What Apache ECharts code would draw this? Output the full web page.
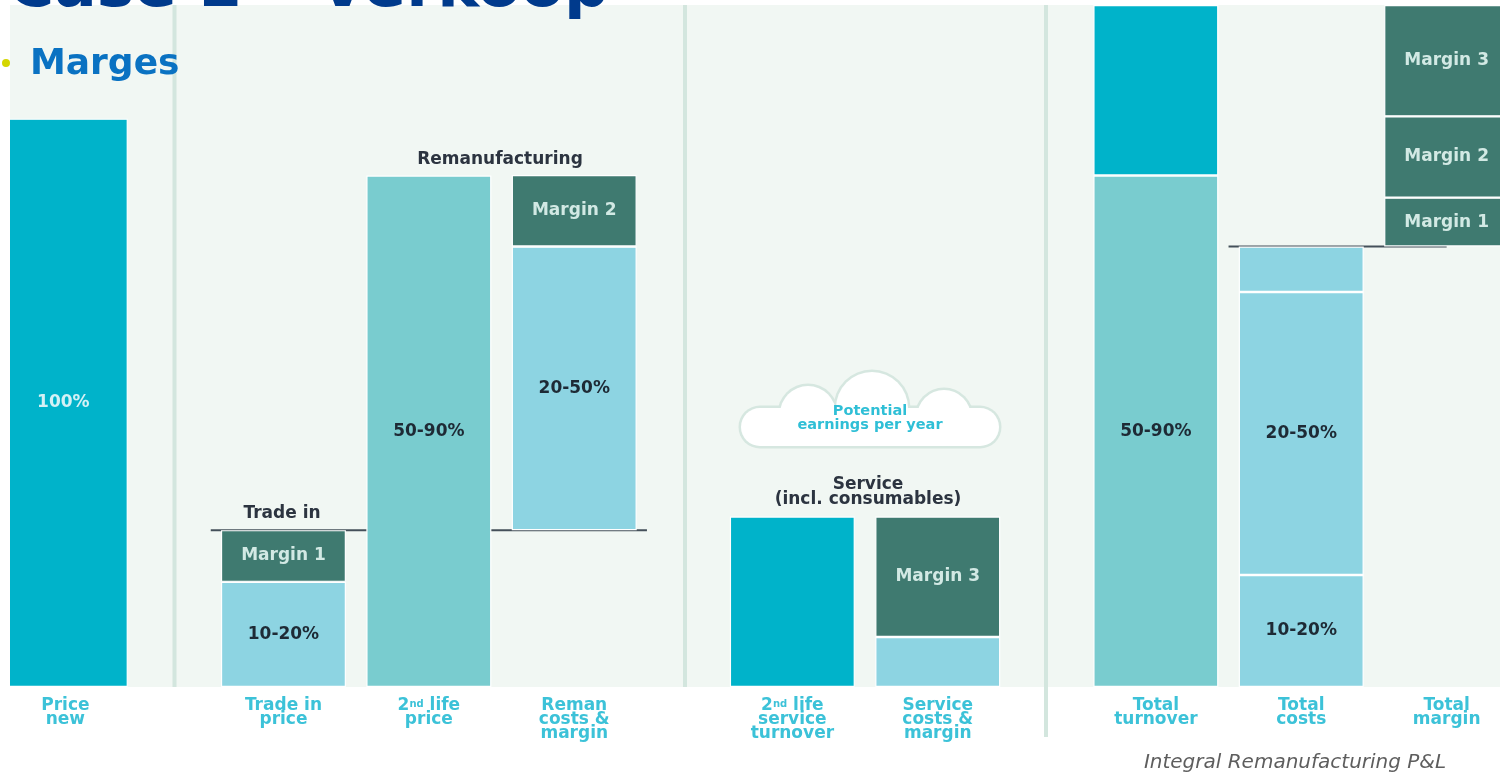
<!DOCTYPE html>
<html>
<head>
<meta charset="utf-8">
<style>
  html, body { margin: 0; padding: 0; background: #ffffff; }
  #chart { width: 1500px; height: 772px; }
</style>
<script src="https://cdn.jsdelivr.net/npm/echarts@6/dist/echarts.min.js"></script>
</head>
<body>
<div id="chart"></div>
<script>
// ---------- data ----------
const categories = ['Price\nnew', 'Trade in\nprice', '2nd life\nprice', 'Reman\ncosts &\nmargin',
  '2nd life\nservice\nturnover', 'Service\ncosts &\nmargin', 'Total\nturnover', 'Total\ncosts', 'Total\nmargin'];

const offset     = [0, 0, 0, 27.6, 0, 0, 0, 0, 77.5];
const costA      = [null, 18.5, null, 49.9, null, 8.8, null, 19.7, null];
const costB      = [null, null, null, null, null, null, null, 49.8, null];
const costC      = [null, null, null, null, null, null, null, 8.0, null];
const turnover   = [100, null, null, null, 30, null, null, null, null];
const secondLife = [null, null, 90, null, null, null, 90, null, null];
const serviceTop = [null, null, null, null, null, null, 30, null, null];
const margin1    = [null, 9.1, null, null, null, null, null, null, 8.6];
const margin2    = [null, null, null, 12.6, null, null, null, null, 14.3];
const margin3    = [null, null, null, null, null, 21.2, null, null, 19.6];

const costALabels      = ['', '10-20%', '', '20-50%', '', '', '', '10-20%', ''];
const costBLabels      = ['', '', '', '', '', '', '', '20-50%', ''];
const turnoverLabels   = ['100%', '', '', '', '', '', '', '', ''];
const secondLifeLabels = ['', '', '50-90%', '', '', '', '50-90%', '', ''];

// ---------- layout ----------
const slotOf = [0, 3, 5, 7, 10, 12, 15, 17, 19];
const NSLOT = 20;
function spread(arr, fill) {
  const out = new Array(NSLOT).fill(fill === undefined ? null : fill);
  arr.forEach((v, i) => { out[slotOf[i]] = v; });
  return out;
}
function labelFrom(arr) {
  return p => { const i = slotOf.indexOf(p.dataIndex); return i >= 0 ? (arr[i] || '') : ''; };
}

const C_CYAN = '#00b3ca', C_TEAL = '#79cccf', C_LIGHT = '#8dd4e2', C_DARK = '#3f7a70';
const FONT = 'DejaVu Sans';
const darkText  = { show: true, position: 'inside', color: '#1e2a35', fontFamily: FONT, fontWeight: 'bold', fontSize: 17 };
const lightText = { show: true, position: 'inside', color: '#d2e9e4', fontFamily: FONT, fontWeight: 'bold', fontSize: 17 };
const border = { borderColor: '#ffffff', borderWidth: 1.2 };

function barSeries(name, arr, color, label) {
  return {
    name, type: 'bar', stack: 'all', barWidth: 125, clip: false, z: 2,
    data: spread(arr),
    itemStyle: Object.assign({ color }, border),
    label: label || { show: false },
    emphasis: { disabled: true }
  };
}

const tradeInLevel = costA[1] + margin1[1];
const costsLevel = costA[7] + costB[7] + costC[7];
const lineData = new Array(NSLOT).fill(null);
for (let i = 2; i <= 8; i++) lineData[i] = tradeInLevel;
for (let i = 16; i <= 19; i++) lineData[i] = costsLevel;

// cloud built from circles and a rounded rect (outline layer + fill layer)
const cloudParts = [
  { t: 'rect', x: 741, y: 408, w: 258, h: 38, r: 19 },
  { t: 'circle', cx: 808, cy: 414, r: 28 },
  { t: 'circle', cx: 872, cy: 408, r: 36 },
  { t: 'circle', cx: 944, cy: 417, r: 27 }
];
function cloudLayer(grow, fill, z) {
  return cloudParts.map(p => p.t === 'rect'
    ? { type: 'rect', z, shape: { x: p.x - grow, y: p.y - grow, width: p.w + 2 * grow, height: p.h + 2 * grow, r: p.r + grow }, style: { fill } }
    : { type: 'circle', z, shape: { cx: p.cx, cy: p.cy, r: p.r + grow }, style: { fill } });
}

const chart = echarts.init(document.getElementById('chart'));
chart.setOption({
  animation: false,
  grid: { left: 29, right: 17, top: 5, bottom: 85 },
  xAxis: {
    type: 'category',
    data: spread(categories, ''),
    axisLine: { show: false }, axisTick: { show: false },
    axisLabel: {
      interval: 0, margin: 12, color: '#3cc2d8', fontFamily: FONT, fontWeight: 'bold',
      fontSize: 17, lineHeight: 14,
      formatter: v => v.replace('2nd', '2{sup|nd}'),
      rich: { sup: { fontSize: 10, fontFamily: FONT, fontWeight: 'bold', color: '#3cc2d8', verticalAlign: 'top', lineHeight: 14, padding: [0, 0, 6, 0] } }
    }
  },
  yAxis: { type: 'value', min: 0, max: 120, show: false, splitLine: { show: false } },
  series: [
    { name: 'offset', type: 'bar', stack: 'all', barWidth: 125, data: spread(offset),
      itemStyle: { color: 'transparent' }, emphasis: { disabled: true }, silent: true },
    barSeries('Costs A', costA, C_LIGHT, Object.assign({}, darkText, { formatter: labelFrom(costALabels) })),
    barSeries('Costs B', costB, C_LIGHT, Object.assign({}, darkText, { formatter: labelFrom(costBLabels) })),
    barSeries('Costs C', costC, C_LIGHT),
    barSeries('Turnover', turnover, C_CYAN, Object.assign({}, lightText, { color: '#d4f1f5', offset: [-2, 0], formatter: labelFrom(turnoverLabels) })),
    barSeries('2nd life', secondLife, C_TEAL, Object.assign({}, darkText, { formatter: labelFrom(secondLifeLabels) })),
    barSeries('Service', serviceTop, C_CYAN),
    barSeries('Margin 1', margin1, C_DARK, Object.assign({}, lightText, { formatter: 'Margin 1' })),
    barSeries('Margin 2', margin2, C_DARK, Object.assign({}, lightText, { formatter: 'Margin 2' })),
    barSeries('Margin 3', margin3, C_DARK, Object.assign({}, lightText, { formatter: 'Margin 3' })),
    { name: 'levels', type: 'line', data: lineData, z: 1, symbol: 'none', silent: true,
      lineStyle: { color: '#44505a', width: 2 }, emphasis: { disabled: true } }
  ],
  graphic: [
    { type: 'rect', z: -10, shape: { x: 10, y: 5, width: 1490, height: 682 }, style: { fill: '#f1f7f3' } },
    { type: 'rect', z: -9, shape: { x: 172.5, y: 5, width: 4, height: 682 }, style: { fill: '#d3e6de' } },
    { type: 'rect', z: -9, shape: { x: 683, y: 5, width: 4, height: 682 }, style: { fill: '#d3e6de' } },
    { type: 'rect', z: -9, shape: { x: 1044, y: 5, width: 4, height: 732 }, style: { fill: '#d3e6de' } }
  ].concat(cloudLayer(2.5, '#d6e7e0', 5), cloudLayer(0, '#ffffff', 6), [
    { type: 'text', z: 7, style: { x: 870, y: 418, text: 'Potential\nearnings per year', align: 'center', verticalAlign: 'middle',
      fill: '#2fbfd6', font: 'bold 14.5px "DejaVu Sans"', lineHeight: 14 } },
    // annotations
    { type: 'text', z: 6, style: { x: 500, y: 160, text: 'Remanufacturing', align: 'center', verticalAlign: 'middle',
      fill: '#2c3440', font: 'bold 17px "DejaVu Sans"' } },
    { type: 'text', z: 6, style: { x: 282, y: 514, text: 'Trade in', align: 'center', verticalAlign: 'middle',
      fill: '#2c3440', font: 'bold 17px "DejaVu Sans"' } },
    { type: 'text', z: 6, style: { x: 868, y: 492, text: 'Service\n(incl. consumables)', align: 'center', verticalAlign: 'middle',
      fill: '#2c3440', font: 'bold 17px "DejaVu Sans"', lineHeight: 15 } },
    { type: 'text', z: 6, style: { x: 1295, y: 763, text: 'Integral Remanufacturing P&L', align: 'center', verticalAlign: 'middle',
      fill: '#5e5e5e', font: 'italic 20px "DejaVu Sans"' } },
    // white left strip
    { type: 'rect', z: 20, shape: { x: 0, y: 0, width: 10, height: 772 }, style: { fill: '#ffffff' } },
    // title (cut off at top)
    { type: 'text', z: 21, style: { x: 8, y: 21, text: 'Case 2 – Verkoop', align: 'left', verticalAlign: 'bottom',
      fill: '#003a8c', font: 'bold 63px "DejaVu Sans"' } },
    { type: 'circle', z: 21, shape: { cx: 6, cy: 63, r: 4 }, style: { fill: '#d4d600' } },
    { type: 'text', z: 21, style: { x: 30, y: 65, text: 'Marges', align: 'left', verticalAlign: 'middle',
      fill: '#0a72c2', font: 'bold 36px "DejaVu Sans"' } }
  ])
});
</script>
</body>
</html>
